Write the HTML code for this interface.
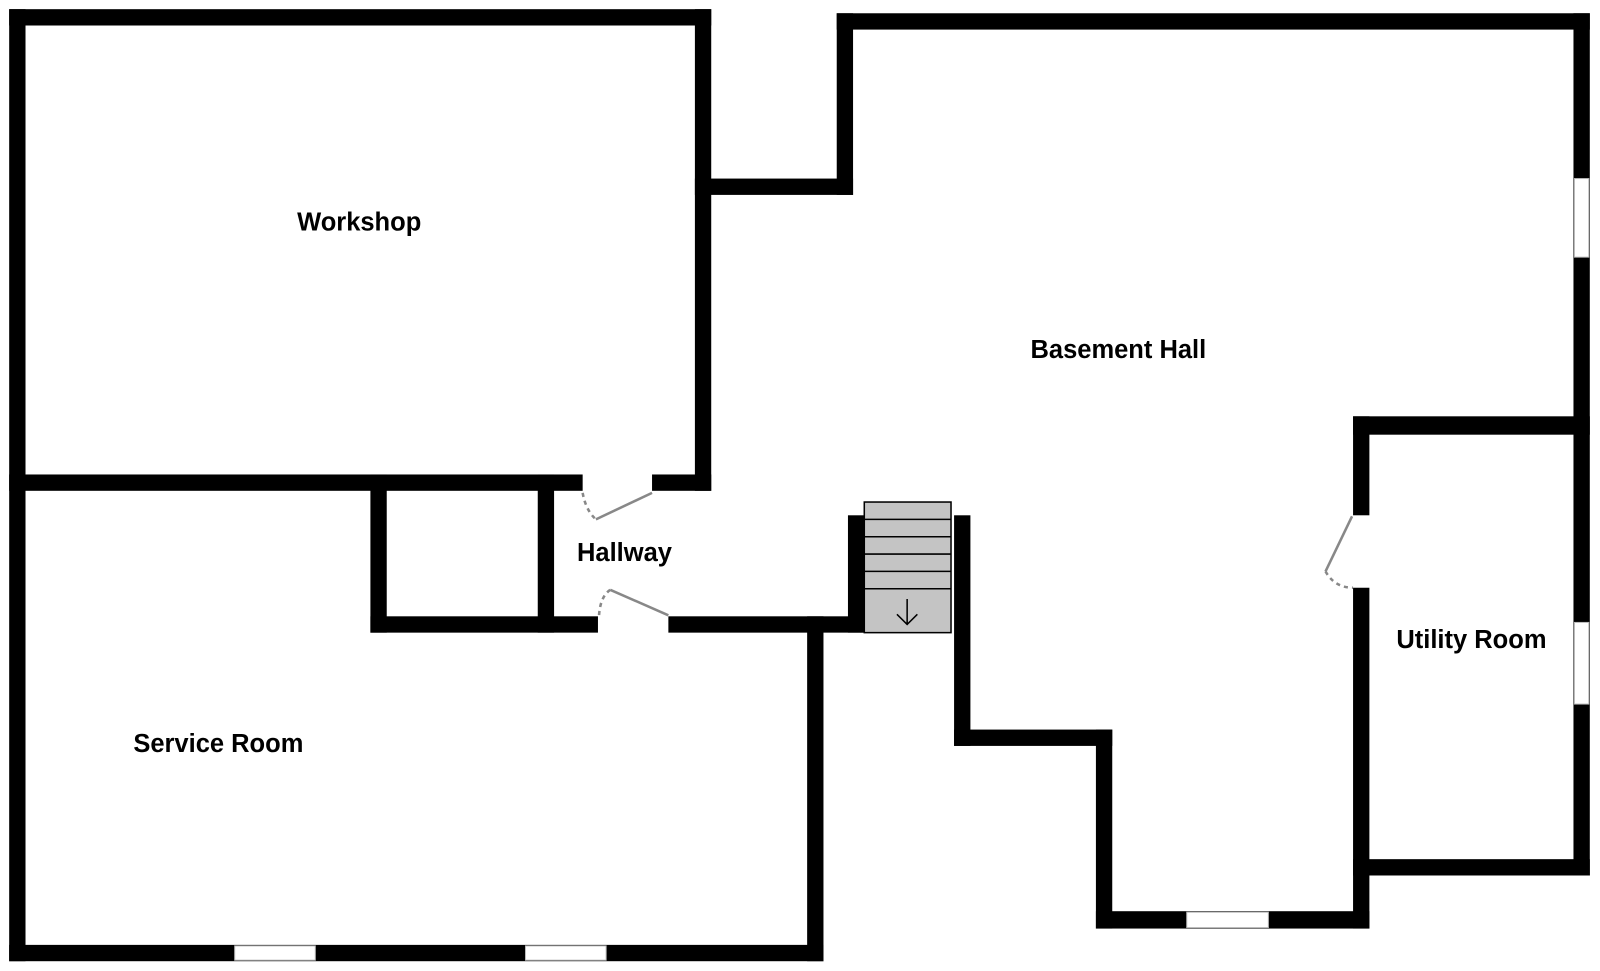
<!DOCTYPE html>
<html><head><style>body{margin:0;background:#fff}svg{display:block}text{font-family:"Liberation Sans",sans-serif;font-weight:bold;font-size:25px;fill:#000}</style></head><body>
<svg width="1600" height="971" viewBox="0 0 1568 951.6" preserveAspectRatio="none" xmlns="http://www.w3.org/2000/svg">
<g fill="#000">
<rect x="9" y="9" width="688" height="16"/>
<rect x="9" y="9" width="16" height="933"/>
<rect x="681" y="9" width="16" height="472"/>
<rect x="9" y="465" width="562" height="16"/>
<rect x="639" y="465" width="58" height="16"/>
<rect x="681" y="175" width="155" height="16"/>
<rect x="820" y="13" width="16" height="178"/>
<rect x="820" y="13" width="738" height="16"/>
<rect x="1542" y="13" width="16" height="845"/>
<rect x="1326" y="408" width="232" height="18"/>
<rect x="1326" y="842" width="232" height="16"/>
<rect x="1326" y="408" width="16" height="97"/>
<rect x="1326" y="576" width="16" height="334"/>
<rect x="1074" y="893" width="268" height="17"/>
<rect x="1074" y="715" width="16" height="195"/>
<rect x="935" y="715" width="155" height="16"/>
<rect x="935" y="505" width="16" height="226"/>
<rect x="831" y="505" width="16" height="115"/>
<rect x="655" y="604" width="192" height="16"/>
<rect x="791" y="604" width="16" height="338"/>
<rect x="9" y="926" width="798" height="16"/>
<rect x="363" y="604" width="223" height="16"/>
<rect x="363" y="465" width="16" height="155"/>
<rect x="527" y="465" width="16" height="155"/>
</g>
<g fill="#fff" stroke="#bbb" stroke-width="1">
<rect x="1543" y="175" width="14" height="77"/>
<rect x="1543" y="610" width="14" height="80"/>
<rect x="230" y="927" width="79" height="14"/>
<rect x="515" y="927" width="79" height="14"/>
<rect x="1163" y="894" width="80" height="15"/>
</g>
<g stroke="#000" stroke-width="1.5" fill="#c4c4c4">
<rect x="847" y="492" width="85" height="128"/>
<line x1="847" y1="509" x2="932" y2="509"/>
<line x1="847" y1="526" x2="932" y2="526"/>
<line x1="847" y1="543" x2="932" y2="543"/>
<line x1="847" y1="560" x2="932" y2="560"/>
<line x1="847" y1="577" x2="932" y2="577"/>
</g>
<path d="M889 587 V612 M879 602 L889 612 L899 602" stroke="#000" stroke-width="1.5" fill="none"/>
<g stroke="#888" stroke-width="2.5" fill="none">
<line x1="639" y1="483" x2="584" y2="509"/>
<line x1="655" y1="603" x2="598" y2="578"/>
<line x1="1325" y1="506" x2="1299" y2="560"/>
</g>
<g stroke="#888" stroke-width="2.5" fill="none" stroke-dasharray="4,4">
<path d="M571 483 Q574 500 584 509"/>
<path d="M598 578 Q588 585 587 604"/>
<path d="M1299 560 Q1308 576 1326 576"/>
</g>
<text x="352" y="226" text-anchor="middle">Workshop</text>
<text x="1096" y="351" text-anchor="middle">Basement Hall</text>
<text x="612" y="550" text-anchor="middle">Hallway</text>
<text x="1442" y="635" text-anchor="middle">Utility Room</text>
<text x="214" y="737" text-anchor="middle">Service Room</text>
</svg>
</body></html>
